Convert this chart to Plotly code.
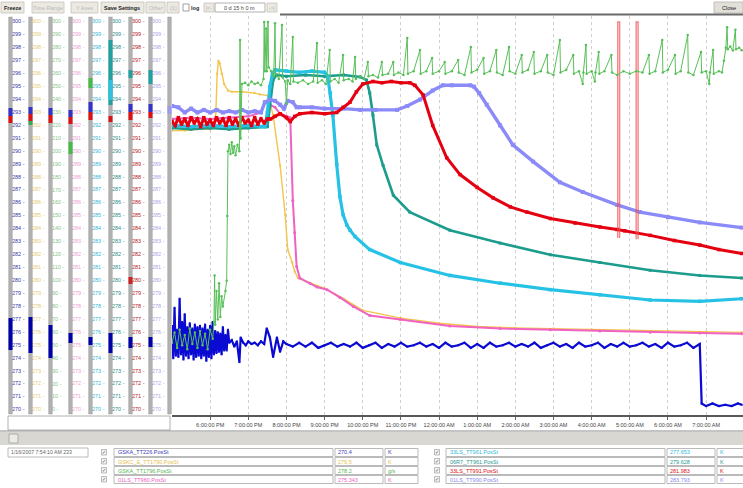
import plotly.graph_objects as go

W, H = 743, 488
PL_T, PL_B, PL_L = 16, 415, 172
FONT = "Liberation Sans, Arial, sans-serif"

# ---------------- data -----------------
def steps(start, n, step):
    h, m = map(int, start.split(":"))
    out = []
    tot = h * 60 + m
    for i in range(n):
        t = (tot + i * step) % 1440
        out.append(f"{t // 60:02d}:{t % 60:02d}")
    return out

def ts(hm):
    h, m = map(int, hm.split(":"))
    day = 15 if h >= 12 else 16
    return f"2007-01-{day:02d} {h:02d}:{m:02d}:00"

# hourly tick positions on the time axis
hour_ticks = ["18:00", "19:00", "20:00", "21:00", "22:00", "23:00", "00:00", "01:00",
              "02:00", "03:00", "04:00", "05:00", "06:00", "07:00"]

# GSKA_TT226 (blue)
blue_v1 = [276.5, 274.0, 277.9, 274.2, 276.2, 274.1, 278.6, 274.3, 276.8, 273.9,
           277.4, 274.2, 276.4, 274.0, 276.7, 274.3, 276.3, 273.9, 276.6, 274.1,
           276.4, 274.2, 276.5, 274.0, 276.3, 274.2, 276.6, 273.8, 276.2, 274.1,
           276.5, 274.0, 276.8, 274.3, 276.1, 274.4, 276.0, 274.5, 275.9, 274.3,
           276.4, 274.6, 275.8, 274.6, 276.2, 275.2]
blue_t2 = ["18:34", "18:38", "18:42", "18:46", "18:48", "18:52", "18:56", "19:00", "19:05", "19:10",
           "19:15", "19:20", "19:25", "19:29", "19:34", "19:39", "19:45", "19:50", "19:55"]
blue_v2 = [275.4, 274.9, 275.3, 273.7, 275.6, 275.2, 275.0, 275.3, 275.1, 275.2,
           275.0, 275.3, 275.1, 276.3, 275.6, 274.1, 275.6, 274.5, 275.3]
blue_v3 = [275.1, 274.9, 275.2, 274.9, 275.2, 274.8, 275.0, 275.2, 274.9, 275.1,
           274.9, 275.2, 274.8, 275.0, 275.2, 274.8, 275.1, 274.9, 275.2, 274.9,
           275.0, 275.2, 274.9, 275.1, 274.8, 275.2, 274.9, 275.0, 275.2, 274.8,
           275.1, 274.8, 275.2, 274.9, 275.0, 275.2, 274.9, 275.1, 274.9, 275.2,
           274.8, 275.0, 275.2, 274.9, 275.1, 274.8, 275.2, 274.9, 275.0, 275.2,
           274.8, 275.1, 274.9, 275.2, 274.9, 275.0, 275.2, 274.9, 275.1, 274.8,
           275.2, 274.9, 275.0, 275.2, 274.8, 275.1]
blue_t4 = ["06:53", "07:00", "07:10", "07:20", "07:30", "07:40", "07:50", "07:56"]
blue_v4 = [270.5, 270.3, 270.5, 270.3, 270.4, 270.3, 270.5, 270.4]
blue_t = steps("17:00", 46, 2) + blue_t2 + steps("20:00", 66, 10) + blue_t4
blue_v = blue_v1 + blue_v2 + blue_v3 + blue_v4

# GSKC_E_TT1790 (yellow)
yel_t = ["17:00", "17:20", "17:40", "18:00", "18:06", "18:09", "18:11", "18:13", "18:15", "18:18",
         "18:22", "18:28", "18:34", "18:50", "19:10", "19:18", "19:31", "19:39", "19:50", "19:58",
         "20:02", "20:09", "20:13", "20:18", "20:30", "21:00", "21:30", "22:00", "23:00", "00:00",
         "01:00", "02:00", "03:00", "04:00", "05:00", "06:00", "07:00", "07:56"]
yel_v = [291.6, 291.6, 291.7, 291.7, 291.8, 293.0, 296.0, 297.0, 296.8, 296.0,
         295.2, 294.7, 294.6, 294.6, 294.5, 294.4, 294.3, 292.8, 288.9, 285.1,
         282.4, 281.4, 280.7, 280.2, 279.95, 279.4, 278.6, 277.7, 277.1, 276.7,
         276.45, 276.35, 276.3, 276.2, 276.15, 276.1, 276.05, 276.0]

# 01LS_TT960 (pink)
pink_t = ["17:00", "17:30", "18:00", "18:30", "19:00", "19:20", "19:26", "19:34", "19:42", "19:50",
          "20:00", "20:06", "20:10", "20:13", "20:16", "20:21", "20:37", "20:48", "21:04", "21:24",
          "21:45", "22:11", "22:59", "00:17", "01:36", "02:55", "04:13", "05:32", "06:50", "07:56"]
pink_v = [292.5, 292.6, 292.5, 292.6, 292.7, 293.0, 293.8, 293.6, 293.4, 292.9,
          292.7, 292.6, 286.2, 283.7, 281.1, 280.2, 279.8, 279.5, 279.3, 278.7,
          278.0, 277.3, 277.0, 276.5, 276.3, 276.2, 276.1, 276.0, 275.95, 275.9]

# 06R7_TT961 (teal)
teal_t = ["17:00", "17:30", "18:00", "18:30", "19:00", "19:30", "19:34", "19:39", "19:44", "20:00",
          "20:30", "21:00", "21:30", "21:56", "22:06", "22:11", "22:16", "22:22", "22:32", "22:48",
          "23:14", "00:17", "01:36", "02:55", "04:13", "05:32", "06:50", "07:56"]
teal_v = [291.8, 291.7, 291.8, 291.7, 291.8, 291.9, 293.5, 295.5, 295.9, 295.8,
          295.9, 295.8, 295.9, 295.75, 295.5, 294.5, 292.8, 290.5, 288.9, 286.6,
          285.3, 283.9, 282.9, 282.0, 281.4, 280.8, 280.4, 280.2]

# 33LS_TT961 (cyan)
cyan_t = ["17:00", "17:30", "18:00", "18:30", "19:00", "19:26", "19:30", "19:34", "19:38", "19:42",
          "20:00", "20:20", "20:40", "21:00", "21:05", "21:09", "21:13", "21:19", "21:24", "21:29",
          "21:35", "21:40", "21:48", "22:11", "22:59", "00:17", "01:36", "02:55", "04:13", "05:32",
          "06:50", "07:56"]
cyan_v = [292.0, 291.9, 292.0, 291.9, 292.0, 291.9, 293.0, 295.0, 296.0, 296.3,
          296.2, 296.1, 296.2, 296.1, 295.8, 294.5, 292.8, 289.0, 286.5, 285.1,
          284.3, 283.9, 283.4, 282.4, 281.4, 280.4, 279.8, 279.3, 278.9, 278.5,
          278.4, 278.6]

# 01LS_TT990 (lavender)
pur_t = ["17:00", "17:10", "17:20", "17:30", "17:40", "17:50", "18:00", "18:10", "18:20", "18:30",
         "18:40", "18:50", "19:00", "19:10", "19:20", "19:26", "19:34", "19:42", "19:50", "19:56",
         "20:02", "20:10", "20:16", "20:21", "20:40", "21:00", "21:30", "21:56", "22:20", "22:54",
         "23:10", "23:30", "23:50", "00:06", "00:20", "00:49", "00:55", "01:03", "01:15", "01:36",
         "01:56", "02:28", "03:10", "03:46", "04:40", "05:16", "06:00", "06:50", "07:56"]
pur_v = [293.5, 293.4, 293.0, 293.3, 293.0, 293.2, 293.0, 293.2, 293.0, 293.1,
         293.0, 293.2, 293.0, 293.1, 293.0, 293.8, 294.0, 293.9, 293.6, 293.3,
         293.9, 293.8, 293.4, 293.4, 293.4, 293.3, 293.3, 293.2, 293.2, 293.2,
         293.5, 294.0, 294.7, 295.1, 295.1, 295.1, 295.0, 294.5, 293.6, 292.0,
         290.5, 289.2, 287.6, 286.85, 285.85, 285.3, 284.9, 284.5, 284.1]

# 33LS_TT991 (red)
red_v1 = [292.3, 292.0, 292.6, 292.1, 292.5, 292.0, 292.6, 292.2, 292.5, 291.9,
          292.6, 292.1, 292.4, 292.0, 292.6, 292.2, 292.5, 292.0, 292.6, 292.1,
          292.5, 292.0, 292.6, 292.2, 292.4, 292.0, 292.6, 292.1, 292.5, 292.2, 292.5]
red_t2 = ["19:35", "19:42", "19:50", "20:00", "20:06", "20:13", "20:21", "20:40", "21:00", "21:19",
          "21:29", "21:40", "21:50", "22:00", "22:16", "22:30", "22:45", "23:00", "23:14", "23:22",
          "23:35", "23:50", "00:12", "00:33", "01:00", "01:25", "01:52", "02:18", "02:55", "03:34",
          "04:13", "04:40", "04:52", "05:32", "06:10", "06:50", "07:20", "07:56"]
red_v2 = [292.5, 292.7, 292.9, 292.6, 292.3, 292.7, 292.9, 293.0, 292.9, 293.0,
          293.4, 293.8, 294.6, 295.2, 295.4, 295.3, 295.4, 295.3, 295.3, 295.1,
          294.35, 292.0, 289.5, 288.2, 287.2, 286.4, 285.7, 285.3, 284.8, 284.45,
          284.15, 283.95, 283.85, 283.5, 283.1, 282.75, 282.4, 282.1]
red_t = steps("17:00", 31, 5) + red_t2
red_v = red_v1 + red_v2
red_spike1_t = ["04:41", "04:41", "04:44", "04:44"]
red_spike1_v = [283.3, 300.0, 300.0, 283.3]
red_spike2_t = ["05:10", "05:10", "05:13", "05:13"]
red_spike2_v = [283.2, 300.0, 300.0, 283.2]

# GSKA_TT1796 (green, 0-300 scale)
green_t = ["17:00", "17:04", "17:08", "17:12", "17:16", "17:20", "17:24", "17:28", "17:32", "17:36",
           "17:40", "17:44", "17:48", "17:52", "17:56", "18:00", "18:04", "18:06", "18:07", "18:08",
           "18:10", "18:12", "18:14", "18:16", "18:18", "18:20", "18:24", "18:26", "18:27", "18:28",
           "18:30", "18:32", "18:34", "18:36", "18:38", "18:40", "18:43", "18:46", "18:47", "18:48",
           "18:50", "18:55", "19:00", "19:05", "19:10", "19:15", "19:20", "19:24", "19:25", "19:26",
           "19:28", "19:29", "19:31", "19:32", "19:36", "19:40", "19:42", "19:43", "19:48", "19:53",
           "19:54", "19:58", "20:00", "20:02", "20:06", "20:10", "20:11", "20:18", "20:26", "20:34",
           "20:42", "20:48", "20:49", "20:56", "21:02", "21:08", "21:09", "21:16", "21:22", "21:29",
           "21:30", "21:38", "21:44", "21:48", "21:49", "21:56", "22:02", "22:08", "22:09", "22:16",
           "22:24", "22:30", "22:31", "22:40", "22:48", "22:49", "22:56", "23:04", "23:10", "23:11",
           "23:20", "23:30", "23:31", "23:40", "23:49", "23:50", "00:00", "00:09", "00:10", "00:20",
           "00:30", "00:31", "00:40", "00:50", "00:51", "01:00", "01:10", "01:11", "01:20", "01:30",
           "01:31", "01:40", "01:50", "01:51", "02:00", "02:10", "02:11", "02:20", "02:29", "02:30",
           "02:40", "02:50", "02:51", "03:00", "03:10", "03:11", "03:20", "03:31", "03:32", "03:40",
           "03:46", "03:47", "03:51", "03:52", "04:00", "04:05", "04:06", "04:11", "04:12", "04:20",
           "04:31", "04:32", "04:40", "04:50", "05:00", "05:10", "05:20", "05:30", "05:31", "05:40",
           "05:51", "05:52", "06:00", "06:11", "06:12", "06:20", "06:31", "06:32", "06:40", "06:52",
           "06:53", "07:00", "07:05", "07:06", "07:11", "07:12", "07:20", "07:25", "07:28", "07:31",
           "07:33", "07:34", "07:38", "07:42", "07:46", "07:47", "07:52", "07:56"]
green_v = [52, 60, 48, 62, 50, 58, 47, 63, 51, 60,
           48, 61, 50, 59, 47, 62, 55, 68, 104, 66,
           92, 70, 98, 72, 88, 80, 92, 100, 150, 200,
           205, 198, 207, 199, 204, 197, 205, 200, 286, 210,
           252, 253, 251, 254, 252, 253, 251, 256, 300, 262,
           295, 262, 300, 265, 262, 258, 299, 260, 256, 297.7,
           257, 254, 237, 255, 252, 288.4, 254, 253, 255, 252,
           254, 283.8, 253, 255, 252, 278.3, 254, 256, 253, 274.5,
           255, 256, 254, 273, 256, 258, 256, 269, 258, 259,
           257, 269, 259, 260, 269, 259, 261, 259, 287.6, 260,
           262, 278.3, 260, 262, 272.2, 260, 262, 269, 260, 262,
           270.6, 261, 259, 280.7, 261, 263, 272.2, 260, 262, 278.3,
           261, 259, 280.7, 262, 260, 274.5, 261, 263, 276.8, 260,
           262, 274.5, 261, 259, 286.1, 261, 263, 274.5, 260, 262,
           252, 261, 282.2, 260, 262, 254, 261, 276.8, 260, 262,
           274.5, 261, 259, 262, 260, 262, 261, 274.5, 260, 262,
           286.1, 261, 263, 274.5, 260, 262, 289.9, 261, 259, 276.8,
           261, 262, 252, 261, 278.3, 260, 262, 261, 270, 280,
           296, 279, 281, 278, 294, 279, 280, 278.2]
assert len(green_t) == len(green_v)
assert len(blue_t) == len(blue_v) and len(red_t) == len(red_v)

# left-panel tick labels
k_ticks = list(range(270, 301))
g_ticks = list(range(0, 301, 10))

# legend table
names_left = ["GSKA_TT226.PosSt", "GSKC_E_TT1790.PosSt", "GSKA_TT1796.PosSt", "01LS_TT960.PosSt"]
vals_left = ["270.4", "279.5", "278.2", "275.343"]
units_left = ["K", "K", "g/s", "K"]
names_right = ["33LS_TT961.PosSt", "06R7_TT961.PosSt", "33LS_TT991.PosSt", "01LS_TT990.PosSt"]
vals_right = ["277.653", "279.628", "281.983", "283.793"]
units_right = ["K", "K", "K", "K"]

# ---------------- styles -----------------
C_BLUE, C_YEL, C_GRN, C_PINK = "#0a0ad2", "#f4c44a", "#58c058", "#f062c2"
C_CYAN, C_TEAL, C_RED, C_PUR = "#26c2e6", "#1c9c8c", "#e40010", "#8a8af8"
col_colors = ["#3a3aa8", "#e6cc70", "#88c488", "#eea0d0", "#3ab8d4", "#2e8e8a", "#b82020", "#a8a8e6"]
leg_left_colors = ["#3a3ab8", "#e6c050", "#55b455", "#ee60c0"]
leg_right_colors = ["#30b8dc", "#2a9a90", "#e01010", "#8888ee"]

fig = go.Figure()

def add_series(t, v, color, lw, ms, yaxis="y", symbol="square", opacity=1.0, markers=True):
    fig.add_trace(go.Scatter(
        x=[ts(s) for s in t], y=v, xaxis="x", yaxis=yaxis,
        mode="lines+markers" if markers else "lines",
        line=dict(color=color, width=lw),
        marker=dict(color=color, size=ms, symbol=symbol),
        opacity=opacity, showlegend=False, hoverinfo="skip"))

add_series(yel_t, yel_v, C_YEL, 1.4, 2)
add_series(pink_t, pink_v, C_PINK, 2.0, 3, symbol="circle")
add_series(teal_t, teal_v, C_TEAL, 2.6, 3)
add_series(cyan_t, cyan_v, C_CYAN, 3.2, 3.5)
add_series(pur_t, pur_v, C_PUR, 3.4, 4)
add_series(red_t, red_v, C_RED, 3.0, 3.5)
add_series(blue_t, blue_v, C_BLUE, 2.2, 2)
add_series(green_t, green_v, C_GRN, 1.0, 2.5, yaxis="y2", symbol="circle")
add_series(red_spike1_t, red_spike1_v, "#f05050", 1.4, 0, opacity=0.7, markers=False)
add_series(red_spike2_t, red_spike2_v, "#f05050", 1.4, 0, opacity=0.7, markers=False)

# left scale panel (text columns)
bars = [10.5, 30.5, 50.5, 70.5, 90.5, 110.5, 130.5, 150.5]
for i, bx in enumerate(bars):
    ticks = g_ticks if i == 2 else k_ticks
    fig.add_trace(go.Scatter(x=[bx + 1.5] * len(ticks), y=ticks, xaxis="x2",
                             yaxis="y4" if i == 2 else "y3",
                             mode="text", text=[f"{v} -" for v in ticks],
                             textposition="middle right",
                             textfont=dict(size=5.5, color=col_colors[i], family=FONT),
                             showlegend=False, hoverinfo="skip", cliponaxis=False))

# ---------------- UI decorations -----------------
def X(px):
    return px / W

def Y(py):
    return (PL_B - py) / (PL_B - PL_T)

shapes, annots = [], []

def rect(x0, y0, x1, y1, fill, line=None, lw=1):
    shapes.append(dict(type="rect", xref="paper", yref="paper", x0=X(x0), x1=X(x1),
                       y0=Y(y1), y1=Y(y0), fillcolor=fill, layer="above",
                       line=dict(color=line if line else "rgba(0,0,0,0)", width=lw if line else 0)))

def hline(x0, x1, y, color, w=1):
    shapes.append(dict(type="line", xref="paper", yref="paper", x0=X(x0), x1=X(x1),
                       y0=Y(y), y1=Y(y), line=dict(color=color, width=w), layer="above"))

def label(x, y, s, color="#333", size=6, anchor="left", bold=False):
    annots.append(dict(xref="paper", yref="paper", x=X(x), y=Y(y),
                       text=f"<b>{s}</b>" if bold else s, showarrow=False,
                       xanchor=anchor, yanchor="middle", borderpad=0,
                       font=dict(size=size, color=color, family=FONT)))

# toolbar
buttons = [(1, 24, "Freeze", "#222", True), (32, 64, "Time Range", "#b8b8b8", False),
           (71, 98, "Y Axes", "#b8b8b8", False), (101, 144, "Save Settings", "#222", True),
           (146, 165, "Other", "#b8b8b8", False), (167, 179, "(1)", "#b8b8b8", False)]
for x0, x1, s, c, b in buttons:
    rect(x0, 2, x1, 13, "#ebe9e2", "#c4c2ba", 0.8)
    label((x0 + x1) / 2, 7.5, s, c, 5.5, "center", b)
rect(183, 4, 189, 11, "white", "#888", 0.8)
label(190, 7.5, "log", "#222", 5.5, "left", True)
rect(204, 3, 214, 12, "#ebe9e2", "#c4c2ba", 0.8)
label(209, 7.5, "|&lt;-", "#b0b0b0", 5, "center")
rect(215, 3, 265, 12, "white", "#a0a0a0", 0.8)
label(240, 7.5, "0 d 15 h 0 m", "#444", 5.5, "center")
rect(267, 3, 277, 12, "#ebe9e2", "#c4c2ba", 0.8)
label(272, 7.5, "-&gt;|", "#b0b0b0", 5, "center")
rect(714, 2, 743, 13, "#e2e0d8", "#b8b6ae", 0.8)
label(728.5, 7.5, "Close", "#222", 5.5, "center")
hline(280, 743, 14.5, "#6a6a6a", 2)

# left panel bars and indicator blobs
for bx in bars + [169.5]:
    rect(bx - 1.8, 17, bx + 1.8, 414, "#b2b2b2", "#8c8c8c", 0.4)
blobs = [(10.5, 108, 116, "#3333cc"), (10.5, 116, 123, "#dd1111"),
         (30.5, 107, 114, "#3333cc"), (30.5, 114, 121, "#dd1111"), (30.5, 121, 125, "#33aa55"),
         (50.5, 108, 115, "#3333cc"), (50.5, 115, 123, "#dd1111"),
         (70.5, 110, 117, "#3333cc"), (70.5, 117, 124, "#dd1111"), (70.5, 142, 154, "#44bb44"),
         (90.5, 78, 88, "#44bb44"), (90.5, 102, 112, "#3333cc"), (90.5, 112, 120, "#dd1111"),
         (110.5, 40, 105, "#20a0a0"), (110.5, 80, 100, "#30c0e0"), (110.5, 116, 122, "#dd1111"),
         (130.5, 70, 78, "#20a0a0"), (130.5, 104, 112, "#3333cc"), (130.5, 112, 120, "#dd1111"),
         (150.5, 70, 84, "#20a0a0"), (150.5, 104, 112, "#3333cc"), (150.5, 112, 118, "#dd1111"),
         (130.5, 277, 284, "#cc2222"), (169.5, 106, 114, "#9a9af0"),
         (10.5, 318, 350, "#0000aa"), (30.5, 317, 353, "#0000aa"), (50.5, 325, 358, "#0000aa"),
         (70.5, 333, 343, "#0000aa"), (90.5, 337, 345, "#0000aa"), (110.5, 333, 353, "#0000aa"),
         (130.5, 337, 348, "#0000aa"), (150.5, 337, 347, "#0000aa")]
for bx, y0, y1, c in blobs:
    rect(bx - 2, y0, bx + 2, y1, c)
rect(8, 416, 170, 430, "white", "#a0a0a0", 0.8)

# scroll strip
hline(0, 743, 431, "#8a8a8a", 1)
rect(0, 432, 743, 445, "#d8d7d2")
rect(9, 434, 18, 443, "#ecebe6", "#a0a0a0", 0.8)

# legend area
rect(8, 448, 88, 457, "white", "#a8a8a8", 0.8)
label(10, 452.5, "1/16/2007 7:54:10 AM 233", "#666", 5.2)
rows_y = [452.5, 461.5, 470.5, 479.5]
for grp, (names, vals, units, cols, cx, nx0, nx1, vx1, ux1) in enumerate([
        (names_left, vals_left, units_left, leg_left_colors, 104, 114, 333, 383, 418),
        (names_right, vals_right, units_right, leg_right_colors, 437, 446, 665, 715, 745)]):
    for r, yc in enumerate(rows_y):
        rect(cx - 2.5, yc - 3, cx + 2.5, yc + 2.5, "#f4f4f4", "#909090", 0.6)
        label(cx, yc, "✓", "#555", 4.5, "center")
        rect(nx0, yc - 4, nx1, yc + 4, "white", "#a8a8a8", 0.8)
        rect(nx1 + 2, yc - 4, vx1, yc + 4, "white", "#a8a8a8", 0.8)
        rect(vx1 + 2, yc - 4, ux1, yc + 4, "white", "#a8a8a8", 0.8)
        label(nx0 + 3, yc, names[r], cols[r], 5.5)
        label(nx1 + 4, yc, vals[r], cols[r], 5.5)
        label(vx1 + 4, yc, units[r], cols[r], 5.5)

YR = [269.61, 300.46]
GR = [-3.87, 304.64]
fig.update_layout(
    width=W, height=H,
    margin=dict(l=0, r=0, t=PL_T, b=H - PL_B, pad=0, autoexpand=False),
    paper_bgcolor="white", plot_bgcolor="white", showlegend=False,
    font=dict(family=FONT),
    xaxis=dict(domain=[PL_L / W, 1], type="date", automargin=False,
               range=["2007-01-15 17:00:00", "2007-01-16 07:58:00"],
               tickmode="array", tickvals=[ts(s) for s in hour_ticks],
               tickformat="%-I:%M:%S %p",
               ticks="outside", ticklen=3, tickcolor="#666",
               tickfont=dict(size=5.5, color="#444", family=FONT),
               showgrid=True, gridcolor="#cfcfcf", griddash="dot", gridwidth=1,
               showline=True, linecolor="#585858", linewidth=2, zeroline=False, anchor="y"),
    yaxis=dict(range=YR, visible=False, anchor="x", domain=[0, 1], automargin=False),
    yaxis2=dict(range=GR, visible=False, overlaying="y", anchor="x", automargin=False),
    xaxis2=dict(domain=[0, PL_L / W], range=[0, PL_L], visible=False, anchor="y3", automargin=False),
    yaxis3=dict(range=YR, visible=False, anchor="x2", domain=[0, 1], automargin=False),
    yaxis4=dict(range=GR, visible=False, anchor="x2", overlaying="y3", automargin=False),
    shapes=shapes, annotations=annots,
)

fig.write_html("out.html", config={"displayModeBar": False},
               post_script="document.body.style.margin='0';document.body.style.overflow='hidden';")
